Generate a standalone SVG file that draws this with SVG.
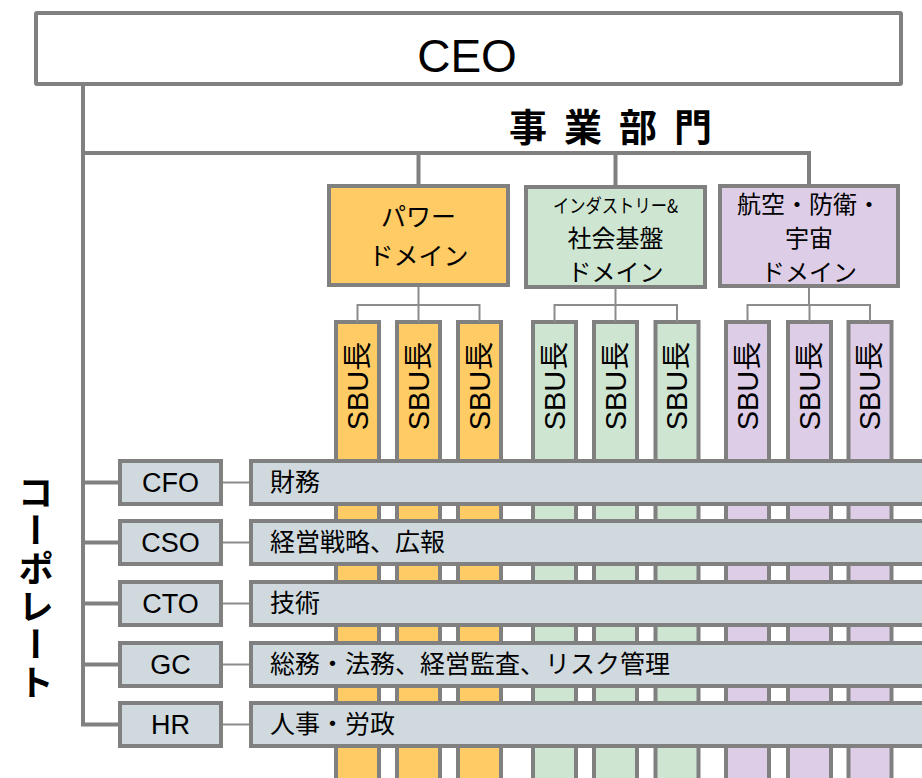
<svg xmlns="http://www.w3.org/2000/svg" width="922" height="778" viewBox="0 0 922 778">
<style>
.box{stroke:#808080;stroke-width:4}
.ceo{fill:#fff}
.pw{fill:#FECB64}
.in{fill:#CEE5D1}
.ae{fill:#DDCDE7}
.co{fill:#CFD9DE}
.ln{stroke:#808080;stroke-width:4;fill:none}
.tn{stroke:#8c8c8c;stroke-width:2;fill:none}
text{font-family:"Liberation Sans","Noto Sans CJK JP",sans-serif;fill:#000}
.jp{font-family:"Noto Sans CJK JP","Liberation Sans",sans-serif}
.dom{font-size:25px;text-anchor:middle}
.dsm{font-size:24px;text-anchor:middle}
.sbu{font-size:29px;text-anchor:middle;dominant-baseline:central}
.lab{font-size:27px;text-anchor:middle}
.bar{font-size:25px}
</style>
<rect width="922" height="778" fill="#fff"/>

<g id="sbu-columns">
  <g id="sbu-p1"><rect class="box pw" x="336" y="322" width="43" height="480"/><text class="sbu" transform="translate(357.5,386) rotate(-90)">SBU長</text></g>
  <g id="sbu-p2"><rect class="box pw" x="397" y="322" width="43" height="480"/><text class="sbu" transform="translate(418.5,386) rotate(-90)">SBU長</text></g>
  <g id="sbu-p3"><rect class="box pw" x="458" y="322" width="43" height="480"/><text class="sbu" transform="translate(479.5,386) rotate(-90)">SBU長</text></g>
  <g id="sbu-i1"><rect class="box in" x="533" y="322" width="43" height="480"/><text class="sbu" transform="translate(554.5,386) rotate(-90)">SBU長</text></g>
  <g id="sbu-i2"><rect class="box in" x="594" y="322" width="43" height="480"/><text class="sbu" transform="translate(615.5,386) rotate(-90)">SBU長</text></g>
  <g id="sbu-i3"><rect class="box in" x="655.5" y="322" width="43" height="480"/><text class="sbu" transform="translate(677,386) rotate(-90)">SBU長</text></g>
  <g id="sbu-a1"><rect class="box ae" x="726" y="322" width="43" height="480"/><text class="sbu" transform="translate(747.5,386) rotate(-90)">SBU長</text></g>
  <g id="sbu-a2"><rect class="box ae" x="788" y="322" width="43" height="480"/><text class="sbu" transform="translate(809.5,386) rotate(-90)">SBU長</text></g>
  <g id="sbu-a3"><rect class="box ae" x="848.5" y="322" width="43" height="480"/><text class="sbu" transform="translate(870,386) rotate(-90)">SBU長</text></g>
</g>

<g id="connectors">
  <path class="ln" d="M83,86 V724.5 H120 M83,482.5 H120 M83,542.5 H120 M83,603.5 H120 M83,664.5 H120"/>
  <path class="ln" d="M83,153 H809 V186 M418.5,153 V186 M615.5,153 V187"/>
  <path class="tn" d="M418.5,287 V305 M357.5,322 V305 H479.5 V322 M418.5,305 V322"/>
  <path class="tn" d="M615.5,289 V305 M554.5,322 V305 H677 V322 M615.5,305 V322"/>
  <path class="tn" d="M809,288 V305 M747.5,322 V305 H870 V322 M809.5,305 V322"/>
  <path class="tn" d="M221,482.5 H251 M221,542.5 H251 M221,603.5 H251 M221,664.5 H251 M221,724.5 H251"/>
</g>

<g id="ceo"><rect class="box ceo" x="36" y="13" width="865" height="71" rx="1"/><text x="467" y="72" font-size="46" text-anchor="middle">CEO</text></g>

<g id="business-title"><text class="jp" x="509" y="141" font-size="38" font-weight="bold" letter-spacing="17">事業部門</text></g>

<g id="domain-power"><rect class="box pw" x="329" y="186" width="179" height="99"/>
  <text class="dom jp" x="418.5" y="226">パワー</text>
  <text class="dom jp" x="418.5" y="265">ドメイン</text></g>
<g id="domain-industry"><rect class="box in" x="526" y="187" width="179" height="100"/>
  <text class="jp" x="615.5" y="213" font-size="19" text-anchor="middle" textLength="125" lengthAdjust="spacingAndGlyphs">インダストリー&amp;</text>
  <text class="dsm jp" x="615.5" y="247">社会基盤</text>
  <text class="dsm jp" x="615.5" y="281">ドメイン</text></g>
<g id="domain-aero"><rect class="box ae" x="720" y="186" width="178" height="100"/>
  <text class="dsm jp" x="809" y="213">航空・防衛・</text>
  <text class="dsm jp" x="809" y="247">宇宙</text>
  <text class="dsm jp" x="809" y="281">ドメイン</text></g>

<g id="corporate-title"><text class="jp" x="36" y="474" font-size="36" font-weight="bold" writing-mode="vertical-rl" letter-spacing="2">コーポレート</text></g>

<g id="row-cfo"><rect class="box co" x="120" y="461" width="101" height="43"/><text class="lab" x="170.5" y="492">CFO</text>
  <rect class="box co" x="251" y="461" width="700" height="43"/><text class="bar jp" x="270" y="491">財務</text></g>
<g id="row-cso"><rect class="box co" x="120" y="521" width="101" height="43"/><text class="lab" x="170.5" y="552">CSO</text>
  <rect class="box co" x="251" y="521" width="700" height="43"/><text class="bar jp" x="270" y="551">経営戦略、広報</text></g>
<g id="row-cto"><rect class="box co" x="120" y="582" width="101" height="43"/><text class="lab" x="170.5" y="613">CTO</text>
  <rect class="box co" x="251" y="582" width="700" height="43"/><text class="bar jp" x="270" y="612">技術</text></g>
<g id="row-gc"><rect class="box co" x="120" y="643" width="101" height="43"/><text class="lab" x="170.5" y="674">GC</text>
  <rect class="box co" x="251" y="643" width="700" height="43"/><text class="bar jp" x="270" y="673">総務・法務、経営監査、リスク管理</text></g>
<g id="row-hr"><rect class="box co" x="120" y="703" width="101" height="43"/><text class="lab" x="170.5" y="734">HR</text>
  <rect class="box co" x="251" y="703" width="700" height="43"/><text class="bar jp" x="270" y="733">人事・労政</text></g>
</svg>
